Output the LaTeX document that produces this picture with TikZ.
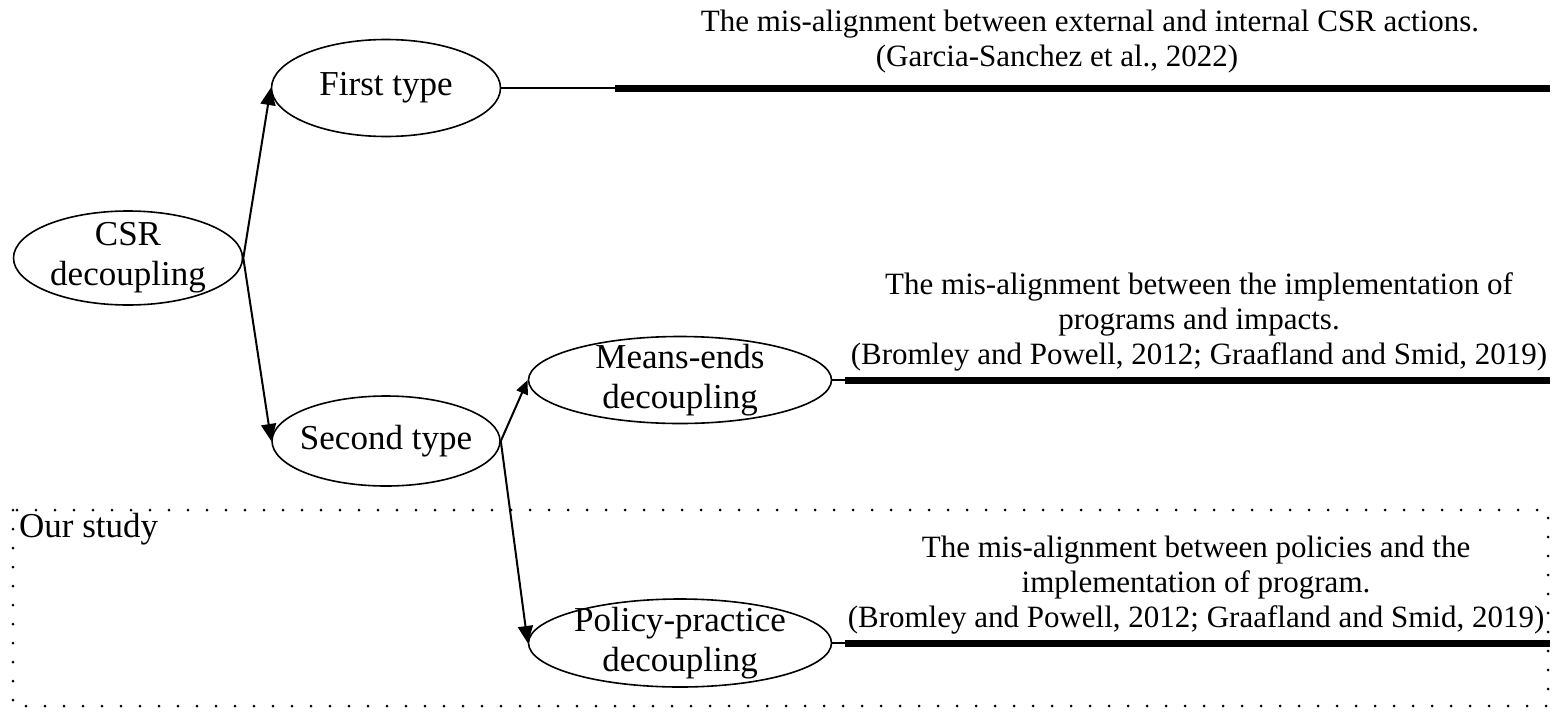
\documentclass[tikz,border=0pt]{standalone}
\usepackage{fontspec}
\setmainfont{Liberation Serif}
\usetikzlibrary{shapes.geometric,arrows.meta}
\begin{document}
\begin{tikzpicture}[x=1pt,y=-1pt,
  ell/.style={ellipse,draw,line width=1.6pt,inner xsep=-25pt,inner ysep=-15pt,align=center,
    font=\fontsize{35}{40}\selectfont},
  arr/.style={line width=2pt,-{Triangle[length=17pt,width=15pt]}},
  arrsmall/.style={line width=2pt,-{Triangle[length=14pt,width=12pt]}},
  thinline/.style={line width=1.5pt},
  heavy/.style={line width=7pt},
  note/.style={font=\fontsize{31}{35}\selectfont,align=center,inner sep=0pt},
  dotbox/.style={line width=3pt,line cap=round,dash pattern=on 0pt off 19pt}
]
\useasboundingbox (0,0) rectangle (1557,712);

% dotted study box
\draw[dotbox] (13,510) rectangle (1548,706);
\node[anchor=west,inner sep=0pt,font=\fontsize{35}{40}\selectfont] (study) at (19,529) {Our study};

% ellipses
\node[ell,minimum width=229pt,minimum height=94pt] (csr) at (128,258) {CSR\\decoupling};
\node[ell,minimum width=229pt,minimum height=97pt] (first) at (386,88) {First type};
\node[ell,minimum width=228pt,minimum height=90pt] (second) at (386,441) {Second type};
\node[ell,minimum width=303pt,minimum height=87pt] (means) at (680,380) {Means-ends\\decoupling};
\node[ell,minimum width=303pt,minimum height=88pt] (policy) at (680,643) {Policy-practice\\decoupling};

% arrows
\draw[arr] (csr.east) -- (first.west);
\draw[arr] (csr.east) -- (second.west);
\draw[arrsmall] (second.east) -- (means.west);
\draw[arr] (second.east) -- (policy.west);

% lines
\coordinate (j1) at (615,88);  \coordinate (e1) at (1550,88);
\coordinate (j2) at (845,380); \coordinate (e2) at (1550,380);
\coordinate (j3) at (845,643); \coordinate (e3) at (1550,643);
\draw[thinline] (first.east) -- (j1);
\draw[heavy] (j1) -- (e1);
\draw[thinline] (means.east) -- (j2);
\draw[heavy] (j2) -- (e2);
\draw[thinline] (policy.east) -- (j3);
\draw[heavy] (j3) -- (e3);

% notes
\node[note,anchor=base] (t1a) at (1090,31) {The mis-alignment between external and internal CSR actions.};
\node[note,anchor=base] (t1b) at (1057,66) {(Garcia-Sanchez et al., 2022)};
\node[note,anchor=south] (t2) at (1199,371) {The mis-alignment between the implementation of\\programs and impacts.\\(Bromley and Powell, 2012; Graafland and Smid, 2019)};
\node[note,anchor=south] (t3) at (1196,634) {The mis-alignment between policies and the\\implementation of program.\\(Bromley and Powell, 2012; Graafland and Smid, 2019)};
\end{tikzpicture}
\end{document}
